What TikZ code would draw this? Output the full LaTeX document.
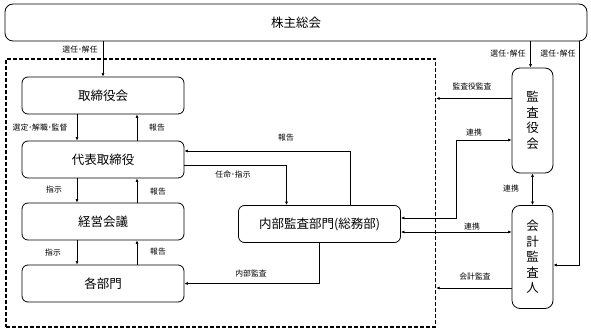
\documentclass[tikz,border=0pt]{standalone}
\usepackage{fontspec}
\setmainfont{Noto Sans CJK JP}
\usetikzlibrary{arrows.meta, calc}

\begin{document}
\begin{tikzpicture}[x=1pt, y=1pt,
    unitbox/.style={draw, line width=0.8pt, rounded corners=6pt, inner sep=0pt,
      minimum width=162pt, minimum height=37pt, font=\fontsize{12.5}{15}\selectfont},
    vunit/.style={draw, line width=0.8pt, rounded corners=8pt, inner sep=0pt,
      minimum width=41pt, align=center, font=\fontsize{12.5}{15.5}\selectfont},
    dashframe/.style={draw, line width=1.3pt, dash pattern=on 4pt off 2pt, inner sep=0pt},
    arr/.style={line width=0.6pt, -{Latex[length=3.5pt, width=3pt]}},
    dblarr/.style={line width=0.6pt, {Latex[length=3.5pt, width=3pt]}-{Latex[length=3.5pt, width=3pt]}},
    lbl/.style={font=\fontsize{7.8}{9}\selectfont, inner sep=0pt}]
  \useasboundingbox (0,0) rectangle (591,334);

  %company frame
  \node[dashframe, minimum width=429.5pt, minimum height=268pt] (company) at (220.75,141) {};

  %boxes
  \node[unitbox, minimum width=582pt, rounded corners=8pt] (soukai) at (296,311.5) {株主総会};
  \node[unitbox] (torikai) at (103,238.5) {取締役会};
  \node[unitbox] (daihyo) at (103,174.5) {代表取締役};
  \node[unitbox] (keiei) at (103,112.5) {経営会議};
  \node[unitbox] (bumon) at (103,50.5) {各部門};
  \node[unitbox] (naibu) at (319.5,110) {内部監査部門(総務部)};
  \node[vunit, minimum height=105pt] (kansa) at (532.5,213.5) {監\\査\\役\\会};
  \node[vunit, minimum height=103pt] (kaikei) at (532.5,77) {会\\計\\監\\査\\人};

  %inside the company
  \draw[arr] (torikai.north |- soukai.south) -- (torikai.north);
  \draw[arr] ([xshift=-26pt]torikai.south) -- ([xshift=-26pt]daihyo.north);
  \draw[arr] ([xshift=34pt]daihyo.north) -- ([xshift=34pt]torikai.south);
  \draw[arr] ([xshift=-26pt]daihyo.south) -- ([xshift=-26pt]keiei.north);
  \draw[arr] ([xshift=34pt]keiei.north) -- ([xshift=34pt]daihyo.south);
  \draw[arr] ([xshift=-26pt]keiei.south) -- ([xshift=-26pt]bumon.north);
  \draw[arr] ([xshift=34pt]bumon.north) -- ([xshift=34pt]keiei.south);
  \draw[arr] ([yshift=-6pt]daihyo.east) -| ([xshift=-33pt]naibu.north);
  \draw[arr] ([xshift=30.5pt]naibu.north) |- ([yshift=8.5pt]daihyo.east);
  \draw[arr] (naibu.south) |- (bumon.east);

  %auditors
  \draw[arr] ([xshift=-2pt]kansa.north |- soukai.south) -- ([xshift=-2pt]kansa.north);
  \draw[arr] ([xshift=283pt]soukai.south) |- ([yshift=-8pt]kaikei.east);
  \draw[arr] ([yshift=22pt]kansa.west) -- ([yshift=22pt]kansa.west -| company.east);
  \draw[arr] ([yshift=-31pt]kaikei.west) -- ([yshift=-31pt]kaikei.west -| company.east);
  \draw[dblarr] ([yshift=6pt]naibu.east) -- ++(55.5,0) |- ([yshift=-19.5pt]kansa.west);
  \draw[dblarr] ([yshift=-8pt]naibu.east) -- ([yshift=-8pt]naibu.east -| kaikei.west);
  \draw[dblarr] (kansa.south) -- (kaikei.north);

  %labels
  \node[lbl] (l1) at (80,284) {選任･解任};
  \node[lbl] (l2) at (40,206) {選定･解職･監督};
  \node[lbl] (l3) at (157,206) {報告};
  \node[lbl] (l4) at (286,196) {報告};
  \node[lbl] (l5) at (233,159) {任命･指示};
  \node[lbl] (l6) at (54,144) {指示};
  \node[lbl] (l7) at (158,142) {報告};
  \node[lbl] (l8) at (53,81) {指示};
  \node[lbl] (l9) at (158,82) {報告};
  \node[lbl] (l10) at (251,60) {内部監査};
  \node[lbl] (l11) at (472,247) {監査役監査};
  \node[lbl] (l12) at (474,201) {連携};
  \node[lbl] (l13) at (508,280) {選任･解任};
  \node[lbl] (l14) at (558,280) {選任･解任};
  \node[lbl] (l15) at (511,145) {連携};
  \node[lbl] (l16) at (472,107) {連携};
  \node[lbl] (l17) at (475,57) {会計監査};
\end{tikzpicture}
\end{document}
